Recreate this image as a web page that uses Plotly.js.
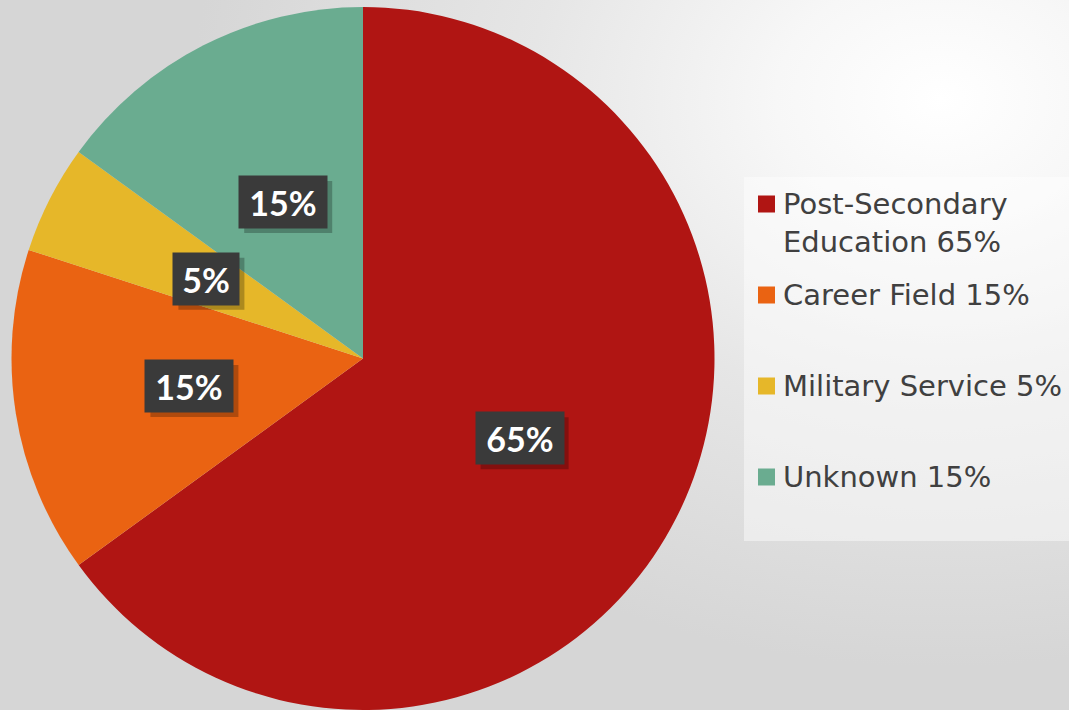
<!DOCTYPE html>
<html>
<head>
<meta charset="utf-8">
<script src="https://cdn.plot.ly/plotly-3.0.1.min.js"></script>
<style>
html,body{margin:0;padding:0;}
body{width:1069px;height:710px;overflow:hidden;
background:radial-gradient(ellipse 70% 80% at 88% 14%, #ffffff 0%, #f7f7f7 22%, #e6e6e6 55%, #d6d6d6 100%);}
#chart{width:1069px;height:710px;}
</style>
</head>
<body>
<div id="chart"></div>
<script>
const categories = ["Post-Secondary Education", "Career Field", "Military Service", "Unknown"];
const values = [65, 15, 5, 15];
const legendLabels = ["Post-Secondary<br>Education 65%", "Career Field 15%", "Military Service 5%", "Unknown 15%"];
const legendRowsPx = [204, 295, 386, 477];
const colors = ["#B01513", "#EA6312", "#E6B729", "#6AAC90"];

const W = 1069, H = 710;
const margin = {l: 0, r: 0, t: 7, b: 0};
const plotH = H - margin.t - margin.b;
const R = plotH / 2;
const cxPx = 363;
const cyPx = margin.t + R;
const domainX = [(cxPx - R) / W, (cxPx + R) / W];
const px2x = p => p / W;
const py2y = p => 1 - (p - margin.t) / plotH;

const total = values.reduce((a, b) => a + b, 0);
const annotations = [];
const shapes = [];
let cum = 0;
values.forEach((v, i) => {
  const mid = (cum + v / 2) / total * 2 * Math.PI;
  cum += v;
  const rr = 0.5 * R;
  const lx = cxPx + rr * Math.sin(mid);
  const ly = cyPx - rr * Math.cos(mid);
  const txt = Math.round(v / total * 100) + "%";
  const tw = txt.length === 2 ? 52 : 74;
  const th = 38, pad = 7;
  const bw = tw + 2 * pad, bh = th + 2 * pad;
  shapes.push({type: "rect", xref: "paper", yref: "paper", layer: "above",
    x0: px2x(lx - bw / 2 + 5), x1: px2x(lx + bw / 2 + 5),
    y0: py2y(ly - bh / 2 + 5), y1: py2y(ly + bh / 2 + 5),
    fillcolor: "rgba(0,0,0,0.25)", line: {width: 0}});
  annotations.push({xref: "paper", yref: "paper", x: px2x(lx), y: py2y(ly), showarrow: false,
    xanchor: "center", yanchor: "middle", borderpad: pad, width: tw, height: th,
    text: "<b>" + txt + "</b>", bgcolor: "#3a3a3a",
    font: {family: "Lato", size: 34, color: "#ffffff"}});
});

// legend panel (drawn from the category arrays)
shapes.push({type: "rect", xref: "paper", yref: "paper", layer: "below",
  x0: px2x(744), x1: px2x(1069), y0: py2y(541), y1: py2y(177),
  fillcolor: "rgba(255,255,255,0.45)", line: {width: 0}});
legendLabels.forEach((lab, i) => {
  const yc = legendRowsPx[i];
  shapes.push({type: "rect", xref: "paper", yref: "paper", layer: "above",
    x0: px2x(758), x1: px2x(775), y0: py2y(yc + 8.5), y1: py2y(yc - 8.5),
    fillcolor: colors[i], line: {width: 0}});
  const nLines = lab.split("<br>").length;
  annotations.push({xref: "paper", yref: "paper", x: px2x(781),
    y: py2y(yc + (nLines - 1) * 18.5), showarrow: false,
    xanchor: "left", yanchor: "middle", align: "left", text: lab,
    font: {family: "DejaVu Sans", size: 29, color: "#404040"}});
});

const data = [{
  type: "pie",
  labels: categories,
  values: values,
  sort: false,
  direction: "clockwise",
  rotation: 0,
  marker: {colors: colors, line: {width: 0}},
  textinfo: "none",
  hovertemplate: "%{label}: %{percent}<extra></extra>",
  domain: {x: domainX, y: [0, 1]}
}];

const layout = {
  width: W, height: H,
  margin: margin,
  paper_bgcolor: "rgba(0,0,0,0)",
  plot_bgcolor: "rgba(0,0,0,0)",
  showlegend: false,
  annotations: annotations,
  shapes: shapes
};

Plotly.newPlot("chart", data, layout, {displayModeBar: false, staticPlot: true});
</script>
</body>
</html>
